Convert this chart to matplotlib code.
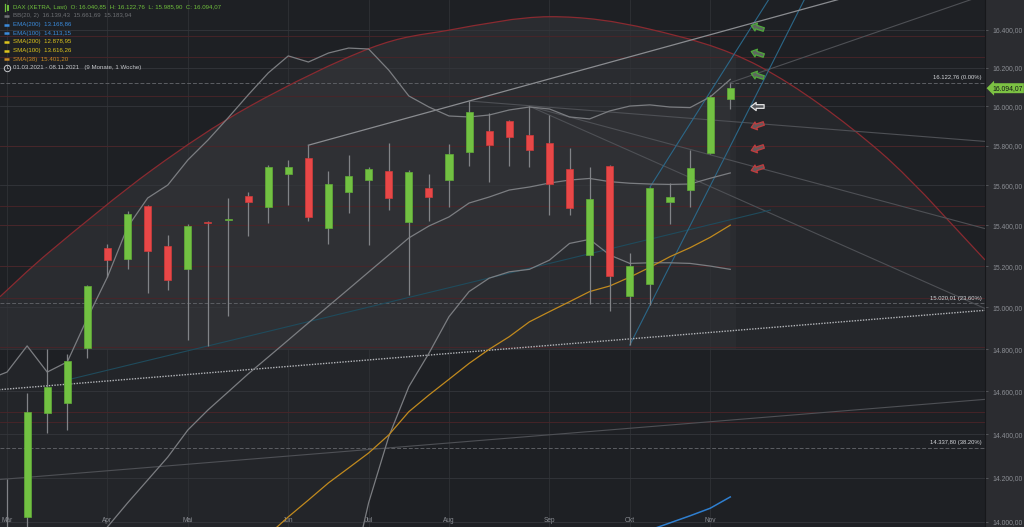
"""
DAX weekly candles 01.03.2021 - 08.11.2021 with indicators and drawings,
dark chart style.
"""

import numpy as np
import matplotlib
matplotlib.use("Agg")
import matplotlib.pyplot as plt
from matplotlib.path import Path
from matplotlib.markers import MarkerStyle
from matplotlib.transforms import Affine2D, blended_transform_factory
from matplotlib.ticker import FuncFormatter, NullLocator
import matplotlib.patches as mpatches

plt.rcParams['font.family'] = ['Liberation Sans', 'DejaVu Sans']

# weekly candles, week 0 = 01.03.2021
week = np.arange(37)
opens = [13880, 14022, 14500, 14547, 14806, 15287, 15235, 15497, 15297, 15187,
         15417, 15427, 15547, 15493, 15658, 15736, 15388, 15568, 15624, 15673,
         15417, 15585, 15628, 15769, 15873, 15925, 15852, 15815, 15680, 15255,
         15697, 15055, 15113, 15515, 15576, 15761, 16040.85]
highs = [14195, 14594, 14799, 14775, 15108, 15308, 15471, 15502, 15352, 15405,
         15420, 15534, 15567, 15700, 15727, 15802, 15673, 15753, 15690, 15812,
         15677, 15656, 15807, 16028, 15968, 15928, 16001, 15958, 15789, 15693,
         15703, 15265, 15590, 15613, 15778, 16060, 16122.76]
lows = [13850, 13890, 14408, 14420, 14756, 15145, 15185, 15071, 15084, 14843,
        14815, 14959, 15349, 15414, 15501, 15424, 15308, 15460, 15303, 15477,
        15060, 15424, 15490, 15697, 15618, 15698, 15691, 15453, 15453, 15016,
        14983, 14819, 15011, 15407, 15493, 15755, 15985.90]
closes = [13920, 14502, 14619, 14745, 15103, 15229, 15455, 15275, 15131, 15397,
          15410, 15433, 15515, 15690, 15690, 15443, 15604, 15648, 15683, 15537,
          15668, 15539, 15757, 15973, 15805, 15845, 15777, 15608, 15485, 15530,
          15151, 15201, 15585, 15539, 15685, 16050, 16094.07]

month_names = ["Mär", "Apr", "Mai", "Jun", "Jul", "Aug", "Sep", "Okt", "Nov"]
month_week = [0, 5, 9, 14, 18, 22, 27, 31, 35]

# Bollinger bands (20, 2)
bb_up_week = np.arange(-1, 37)
bb_upper = [14654, 14691, 14815, 14691, 14739, 14948, 15147, 15392, 15536, 15601,
            15727, 15828, 15941, 16059, 16173, 16262, 16230, 16277, 16303, 16298,
            16188, 16054, 15997, 15951, 15946, 15956, 15982, 15997, 15987, 15946,
            15936, 15977, 16002, 16008, 15997, 15994, 16049, 16139.43]
bb_mid_week = np.arange(4, 37)
bb_mid = [13875, 13978, 14086, 14190, 14295, 14420, 14513, 14597, 14682, 14762,
          14843, 14925, 15006, 15088, 15171, 15254, 15338, 15397, 15442, 15511,
          15541, 15576, 15591, 15611, 15626, 15634, 15618, 15610, 15606, 15604,
          15606, 15635, 15661.69]
bb_low_week = np.arange(17, 37)
bb_lower = [13697, 14087, 14389, 14622, 14780, 14955, 15076, 15141, 15172, 15184,
            15229, 15311, 15331, 15254, 15213, 15216, 15216, 15213, 15200, 15183.94]

sma38_week = np.arange(13, 37)
sma38 = [13942, 14023, 14099, 14177, 14245, 14314, 14397, 14505, 14583, 14657,
         14732, 14799, 14859, 14930, 14979, 15027, 15076, 15103, 15146, 15194,
         15246, 15290, 15341, 15401.20]
ema100_week = np.arange(31, 37)
ema100 = [13933, 13964, 13996, 14028, 14062, 14113.15]

# legend rows
ind_names = ["EMA(200)", "EMA(100)", "SMA(200)", "SMA(100)", "SMA(38)"]
ind_values = [13168.86, 14113.15, 12878.95, 13616.26, 15401.20]
ind_colors = ["#3a8bdc", "#3a8bdc", "#dcc41c", "#dcc41c", "#c98a22"]

# arc drawing, points (week, price)
arc_week = [-0.35, 2.23, 7.22, 12.10, 18.07, 22.05, 27.03, 32.0, 37.48, 43.45,
            48.68]
arc_price = [15051, 15279, 15677, 16002, 16302, 16398, 16468, 16402, 16206,
             15769, 15230]
arc_floor = 14800

# trend lines: (week0, price0, week1, price1, start, end)
grey_lines = [(23, 16028, 36, 15923, 23, 50),
              (26, 16001, 36, 15726, 26, 50),
              (26, 16001, 36, 15549, 26, 50),
              (36, 16122.76, 40, 16267, 36, 50),
              (0, 14195, 36, 14466, -1, 50)]
channel_top = (15, 15802, 36, 16402, 15, 50)
channel_low = (0, 14611, 36, 14887, -1, 50)
teal_faint = (3, 14654, 38, 15476, 3, 38)
teal_lines = [(32, 15590, 36, 16239, 32, 45),
              (31, 14819, 35, 15596, 31, 45)]

red_levels = [16365, 16258, 16054, 15800, 15496, 15400, 15200, 15043, 14810,
              14504, 14455, 13979]
fib_values = [16122.76, 15020.01, 14337.80]
fib_pct = ["0.00%", "23.60%", "38.20%"]

arrow_prices = [16414, 16277, 16163, 16002, 15905, 15788, 15687]
arrow_kind = ["up", "up", "up", "flat", "down", "down", "down"]
arrow_week = 37.32

price_ticks = list(range(14000, 16401, 200))
last_price = 16094.07


def de_num(v):
    s = f"{v:,.2f}"
    return s.replace(",", "X").replace(".", ",").replace("X", ".")


def ray(line):
    w0, p0, w1, p1, ws, we = line
    k = (np.log(p1) - np.log(p0)) / (w1 - w0)
    xs = np.array([ws, we], dtype=float)
    return xs, p0 * np.exp(k * (xs - w0))


def smooth_path(xs, ps):
    # catmull-rom through the points, as cubic bezier (log price space)
    pts = np.column_stack([xs, np.log(ps)])
    n = len(pts)
    verts = [pts[0]]
    codes = [Path.MOVETO]
    for k in range(n - 1):
        p0 = pts[max(k - 1, 0)]
        p1 = pts[k]
        p2 = pts[k + 1]
        p3 = pts[min(k + 2, n - 1)]
        verts += [p1 + (p2 - p0) / 6, p2 - (p3 - p1) / 6, p2]
        codes += [Path.CURVE4] * 3
    verts = np.array(verts)
    verts[:, 1] = np.exp(verts[:, 1])
    return verts, codes


fig = plt.figure(figsize=(10.24, 5.27), dpi=100, facecolor="#2b2c30")
ax = fig.add_axes([0, 0, 985 / 1024, 1])
ax.set_facecolor("#1e2024")
ax.set_yscale("log")
ax.set_xlim(-0.35, 48.68)
ax.set_ylim(13977.5, 16556.7)

for name, s in ax.spines.items():
    s.set_visible(name == "right")
ax.spines["right"].set_color("#17181b")

# grid + ticks
ax.set_yticks(price_ticks)
ax.yaxis.set_minor_locator(NullLocator())
ax.yaxis.set_major_formatter(FuncFormatter(lambda v, pos: de_num(v)))
ax.yaxis.tick_right()
ax.tick_params(axis="y", color="#5a5c60", labelcolor="#8b8e94", labelsize=4.85,
               length=2.5, width=0.6, pad=2.5)
ax.set_xticks(month_week)
ax.tick_params(axis="x", length=0, labelbottom=False)
ax.grid(axis="y", color="#34363b", lw=0.6)
ax.grid(axis="x", color="#2f3135", lw=0.6)
ax.set_axisbelow(True)

tr = blended_transform_factory(ax.transData, ax.transAxes)
for m, name in zip(month_week, month_names):
    ax.text(m, 7 / 527, name, transform=tr, ha="center", va="center",
            fontsize=4.7, color="#8b8e94")

# arc area + measured range
arc_verts, arc_codes = smooth_path(arc_week, arc_price)
fill_verts = np.vstack([arc_verts, [[arc_week[-1], arc_floor],
                                    [arc_week[0], arc_floor],
                                    [arc_week[0], arc_floor]]])
fill_codes = arc_codes + [Path.LINETO, Path.LINETO, Path.CLOSEPOLY]
arc_area = mpatches.PathPatch(Path(fill_verts, fill_codes), fc="#25272b",
                              ec="none", zorder=0.1, transform=ax.transData)
ax.add_patch(arc_area)
rng = mpatches.Rectangle((-0.35, arc_floor), 36.65, 3000, color="#2a2c30",
                         lw=0, zorder=0.2)
ax.add_patch(rng)
rng.set_clip_path(arc_area)

# bollinger fill
low_full = np.full(len(bb_up_week), ax.get_ylim()[0])
low_full[bb_up_week >= 17] = bb_lower
ax.fill_between(bb_up_week, low_full, bb_upper, color="white", alpha=0.025,
                lw=0, zorder=0.3)

for lvl in red_levels:
    ax.axhline(lvl, color="#4c2428", lw=0.6, zorder=1)
for p in fib_values:
    ax.axhline(p, color="#5c5e63", lw=0.7, ls=(0, (4, 2)), zorder=1.2)

ax.add_patch(mpatches.PathPatch(Path(arc_verts, arc_codes), fc="none",
                                ec="#8a2a30", lw=0.9, zorder=2))

for ln in grey_lines:
    ax.plot(*ray(ln), color="#4e5055", lw=0.8, zorder=2.2)
ax.plot(*ray(channel_top), color="#8a8c90", lw=0.9, zorder=2.4)
ax.plot(*ray(channel_low), color="#b4b6ba", lw=1.0, ls=(0, (1, 1)), zorder=2.4)
ax.plot(*ray(teal_faint), color="#1f4b5c", lw=0.8, zorder=2.2)
for ln in teal_lines:
    ax.plot(*ray(ln), color="#2b6788", lw=0.8, zorder=2.3)

# indicators
ax.plot(bb_up_week, bb_upper, color="#7b7d81", lw=0.9, zorder=3)
ax.plot(bb_mid_week, bb_mid, color="#7b7d81", lw=0.9, zorder=3)
ax.plot(bb_low_week, bb_lower, color="#7b7d81", lw=0.9, zorder=3)
ax.plot(sma38_week, sma38, color="#c18a1e", lw=0.9, zorder=3)
ax.plot(ema100_week, ema100, color="#2f7fd0", lw=1.1, zorder=3)

# candles
o = np.array(opens)
c = np.array(closes)
up = c >= o
ax.vlines(week, lows, highs, color="#818387", lw=0.9, zorder=4)
ax.bar(week, c - o, bottom=o, width=0.35,
       color=np.where(up, "#72c142", "#e84747"),
       edgecolor=np.where(up, "#62ad38", "#cf3b3b"), lw=0.5, zorder=5)

# signal arrows
arrow_path = Path([(-1, 0), (-0.2, 0.62), (-0.2, 0.28), (1, 0.28), (1, -0.28),
                   (-0.2, -0.28), (-0.2, -0.62), (-1, 0)],
                  [Path.MOVETO] + [Path.LINETO] * 6 + [Path.CLOSEPOLY])
arrow_style = {"up": (-18, "#5e6660", "#4fa83a"),
               "flat": (0, "#56585c", "#e2e2e2"),
               "down": (18, "#66585a", "#c23b3d")}
for p, kind in zip(arrow_prices, arrow_kind):
    ang, fc, ec = arrow_style[kind]
    mk = MarkerStyle(arrow_path, transform=Affine2D().rotate_deg(ang))
    ax.plot([arrow_week], [p], marker=mk, ms=9.5, mfc=fc, mec=ec, mew=0.9,
            ls="none", zorder=7)

# fib labels
for p, pct in zip(fib_values, fib_pct):
    ax.text(48.53, p * 1.0008, f"{de_num(p)} ({pct})", ha="right", va="bottom",
            fontsize=4.2, color="#d4d6da", zorder=8)

# last price tag
tag_tr = blended_transform_factory(ax.transAxes, ax.transData)
ax.text(1.0 + 7 / 985, last_price, de_num(last_price), transform=tag_tr,
        ha="left", va="center", fontsize=4.9, color="#15171a", zorder=10,
        bbox=dict(boxstyle="larrow,pad=0.22", fc="#7cc243", ec="none"))

# legend block
ov = fig.add_axes([0, 0, 1, 1])
ov.set_xlim(0, 1024)
ov.set_ylim(527, 0)
ov.axis("off")
ov.patch.set_alpha(0)

fs = 4.4
head = (f"DAX (XETRA, Last)  O: {de_num(opens[-1])}  H: {de_num(highs[-1])}  "
        f"L: {de_num(lows[-1])}  C: {de_num(closes[-1])}")
ov.plot([5, 5], [4, 11], color="#6fbf3c", lw=0.9)
ov.plot([8, 8], [5.5, 9.5], color="#6fbf3c", lw=1.4)
ov.text(13, 7.5, head, fontsize=fs, color="#6fbf3c", va="center")

ov.plot([4, 9], [16, 16], color="#6e7074", lw=1.8, solid_capstyle="butt")
ov.text(13, 16, "BB(20, 2)  " + "  ".join(de_num(v) for v in
        (bb_upper[-1], bb_mid[-1], bb_lower[-1])),
        fontsize=fs, color="#6e7074", va="center")

row_y = [24.5, 33, 42, 50.5, 59]
for y, name, val, col in zip(row_y, ind_names, ind_values, ind_colors):
    ov.plot([4, 9], [y, y], color=col, lw=1.8, solid_capstyle="butt")
    ov.text(13, y, f"{name}  {de_num(val)}", fontsize=fs, color=col, va="center")

ov.plot([6.5], [68], marker="o", ms=4.6, mfc="none", mec="#c4c6ca", mew=0.7)
ov.plot([6.5, 6.5, 8], [66.2, 68, 68], color="#c4c6ca", lw=0.5)
ov.text(13, 68, "01.03.2021 - 08.11.2021   (9 Monate, 1 Woche)", fontsize=fs,
        color="#c4c6ca", va="center")

fig.savefig("out.png", dpi=100, facecolor=fig.get_facecolor())
